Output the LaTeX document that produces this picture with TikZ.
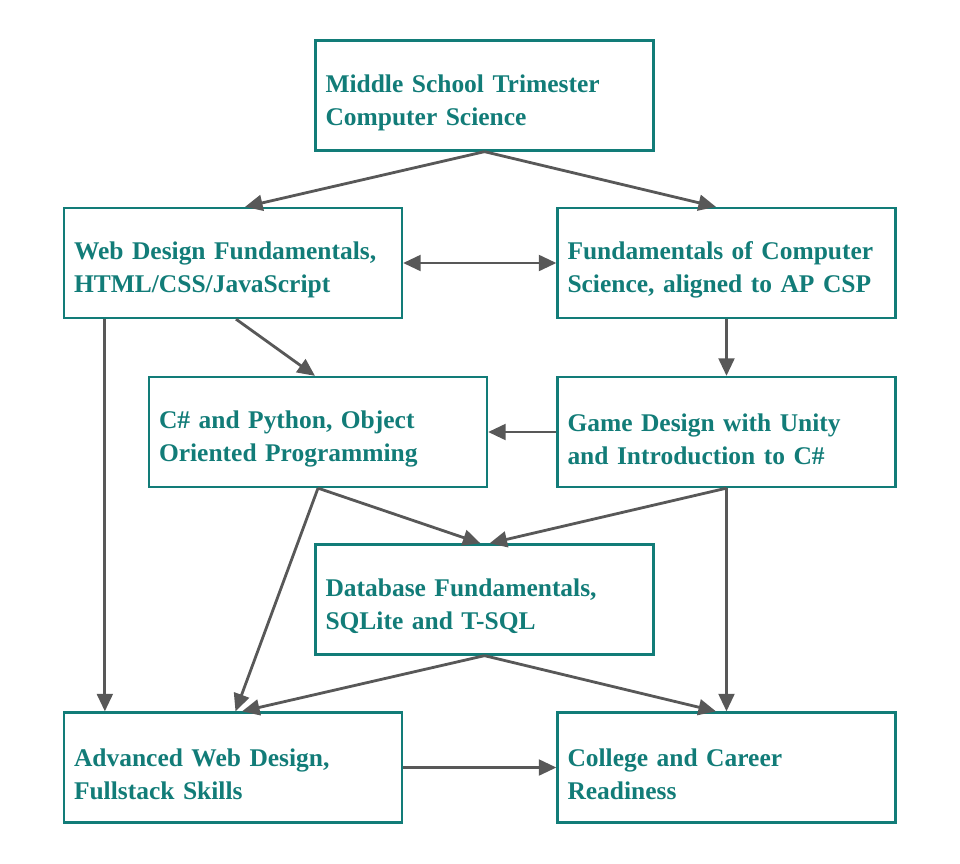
\documentclass[tikz,border=0pt]{standalone}
\usepackage{fontspec}
\setmainfont{Liberation Serif}
\usepackage{tikz}
\usetikzlibrary{positioning, arrows.meta, calc}

\definecolor{courseteal}{RGB}{18,124,120}
\definecolor{linkgray}{RGB}{88,88,88}
\newcommand{\topgap}{\rule{0pt}{0.64cm}}

\begin{document}
\begin{tikzpicture}[
    course/.style={draw=courseteal, line width=1.3pt, rectangle, minimum width=6.76cm, minimum height=2.2cm,
        text width=6.36cm, inner xsep=0.2cm, align=left, text=courseteal,
        font=\fontsize{14.5}{18.8}\selectfont\bfseries},
    link/.style={draw=linkgray, line width=1.6pt, -{Triangle[length=10pt,width=9pt]}}
]
    \useasboundingbox (0,0) rectangle (19.2,-17.26);

    \node[course] (ms)   at (9.69,-1.91)  {\topgap Middle School Trimester\\Computer Science};
    \node[course] (web)  at (4.66,-5.26)  {\topgap Web Design Fundamentals,\\HTML/CSS/JavaScript};
    \node[course] (fcs)  at (14.53,-5.26) {\topgap Fundamentals of Computer\\Science, aligned to AP CSP};
    \node[course] (oop)  at (6.36,-8.64)  {\topgap C\# and Python, Object\\Oriented Programming};
    \node[course] (game) at (14.53,-8.64) {\topgap Game Design with Unity\\and Introduction to C\#};
    \node[course] (db)   at (9.69,-11.99) {\topgap Database Fundamentals,\\SQLite and T-SQL};
    \node[course] (adv)  at (4.66,-15.35) {\topgap Advanced Web Design,\\Fullstack Skills};
    \node[course] (ccr)  at (14.53,-15.35) {\topgap College and Career\\Readiness};

    \draw[link] (ms.south) -- ([xshift=0.24cm]web.north);
    \draw[link] (ms.south) -- ([xshift=-0.21cm]fcs.north);
    \draw[link, {Triangle[length=10pt,width=9pt]}-{Triangle[length=10pt,width=9pt]}] (web.east) -- (fcs.west);
    \draw[link] ([xshift=0.06cm]web.south) -- ([xshift=-0.06cm]oop.north);
    \draw[link] (fcs.south) -- (game.north);
    \draw[link] (game.west) -- (oop.east);
    \draw[link] (oop.south) -- ([xshift=-0.08cm]db.north);
    \draw[link] (game.south) -- ([xshift=0.1cm]db.north);
    \draw[link] ([xshift=0.84cm]web.south west) -- ([xshift=0.84cm]adv.north west);
    \draw[link] (oop.south) -- ([xshift=0.05cm]adv.north);
    \draw[link] (db.south) -- ([xshift=0.18cm]adv.north);
    \draw[link] (game.south) -- (ccr.north);
    \draw[link] (db.south) -- ([xshift=-0.21cm]ccr.north);
    \draw[link] (adv.east) -- (ccr.west);
\end{tikzpicture}
\end{document}
